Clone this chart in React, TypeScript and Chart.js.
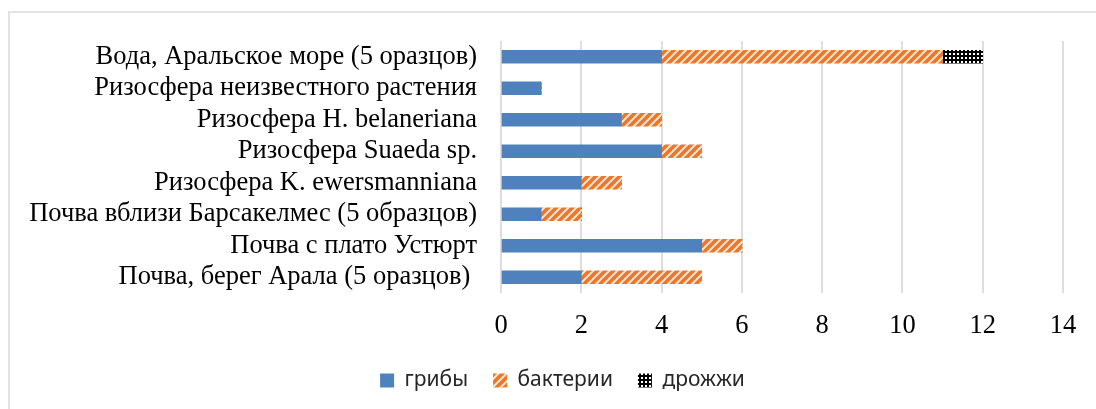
import React, { useEffect, useRef } from "react";
import { Chart, registerables } from "chart.js";

Chart.register(...registerables);

const categories = [
  "Вода, Аральское море (5 оразцов)",
  "Ризосфера неизвестного растения",
  "Ризосфера H. belaneriana",
  "Ризосфера Suaeda sp.",
  "Ризосфера K. ewersmanniana",
  "Почва вблизи Барсакелмес (5 образцов)",
  "Почва с плато Устюрт",
  "Почва, берег Арала (5 оразцов) ",
];
const fungi = [4, 1, 3, 4, 2, 1, 5, 2];
const bacteria = [7, 0, 1, 1, 1, 1, 1, 3];
const yeast = [1, 0, 0, 0, 0, 0, 0, 0];
const seriesNames = ["грибы", "бактерии", "дрожжи"];
const xMin = 0;
const xMax = 14;
const xStep = 2;

function stripePattern(): CanvasPattern | string {
  const c = document.createElement("canvas");
  c.width = 8;
  c.height = 8;
  const g = c.getContext("2d");
  if (!g) return "#ee7625";
  g.fillStyle = "#ee7625";
  g.fillRect(0, 0, 8, 8);
  g.strokeStyle = "#fde6d2";
  g.lineWidth = 2;
  g.beginPath();
  g.moveTo(-4, 4);
  g.lineTo(4, -4);
  g.moveTo(0, 8);
  g.lineTo(8, 0);
  g.moveTo(4, 12);
  g.lineTo(12, 4);
  g.stroke();
  const p = g.createPattern(c, "repeat");
  return p || "#ee7625";
}

function checkPattern(): CanvasPattern | string {
  const c = document.createElement("canvas");
  c.width = 4;
  c.height = 4;
  const g = c.getContext("2d");
  if (!g) return "#000";
  g.fillStyle = "#000";
  g.fillRect(0, 0, 4, 4);
  g.fillStyle = "#ffffff";
  g.fillRect(1, 1, 2, 2);
  const p = g.createPattern(c, "repeat");
  return p || "#000";
}

const shiftLegend = {
  id: "shiftLegend",
  afterLayout(chart: any) {
    const l = chart.legend;
    if (l) {
      l.left += 31;
      l.right += 31;
    }
  },
};

export default function App() {
  const ref = useRef<HTMLCanvasElement | null>(null);

  useEffect(() => {
    if (!ref.current) return;
    const serif = "'Liberation Serif', 'Times New Roman', serif";
    const chart = new Chart(ref.current, {
      type: "bar",
      data: {
        labels: categories,
        datasets: [
          {
            label: seriesNames[0],
            data: fungi,
            backgroundColor: "#4f81bd",
            borderWidth: 0,
            barThickness: 13,
          },
          {
            label: seriesNames[1],
            data: bacteria,
            backgroundColor: stripePattern(),
            borderWidth: 0,
            barThickness: 13,
          },
          {
            label: seriesNames[2],
            data: yeast,
            backgroundColor: checkPattern(),
            borderWidth: 0,
            barThickness: 13,
          },
        ],
      },
      options: {
        indexAxis: "y",
        responsive: false,
        animation: false,
        devicePixelRatio: 1,
        layout: { padding: { left: 0, right: 33, top: 41, bottom: 8 } },
        scales: {
          x: {
            stacked: true,
            min: xMin,
            max: xMax,
            ticks: {
              stepSize: xStep,
              padding: 17,
              color: "#000",
              font: { family: serif, size: 26.5 },
            },
            grid: { color: "#dedede", lineWidth: 2, drawTicks: false },
            border: { display: false },
            afterFit: (s: any) => {
              s.height = 52;
            },
          },
          y: {
            stacked: true,
            ticks: {
              padding: 24,
              color: "#000",
              font: { family: serif, size: 26.5 },
              autoSkip: false,
            },
            grid: { display: false, drawTicks: false },
            border: { display: false },
            afterFit: (s: any) => {
              s.width = 501;
            },
          },
        },
        plugins: {
          legend: {
            position: "bottom",
            labels: {
              boxWidth: 14,
              boxHeight: 14,
              padding: 25,
              color: "#262626",
              font: { family: "'Noto Sans', sans-serif", size: 21 },
            },
          },
          tooltip: { enabled: false },
        },
      },
      plugins: [shiftLegend],
    });
    return () => chart.destroy();
  }, []);

  return (
    <div style={{ position: "fixed", left: 0, top: 0, width: 1096, height: 409, overflow: "hidden", background: "#fff" }}>
      <div
        style={{
          position: "absolute",
          left: 8,
          top: 11,
          width: 2000,
          height: 2000,
          borderLeft: "2px solid #e2e2e2",
          borderTop: "2px solid #e2e2e2",
        }}
      />
      <canvas ref={ref} width={1096} height={409} style={{ position: "absolute", left: 0, top: 0, width: 1096, height: 409 }} />
    </div>
  );
}
